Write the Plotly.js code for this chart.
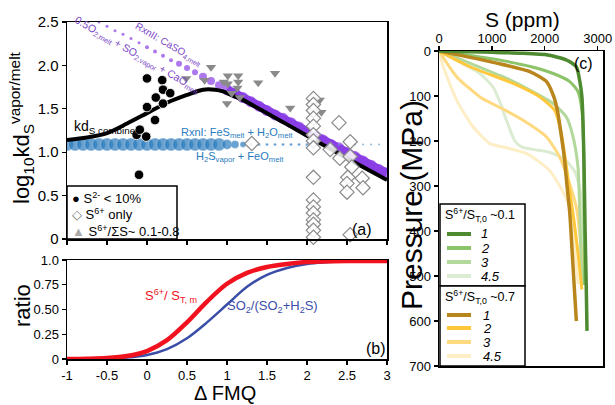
<!DOCTYPE html>
<html>
<head>
<meta charset="utf-8">
<script src="https://cdn.plot.ly/plotly-3.0.1.min.js"></script>
<style>html,body{margin:0;padding:0;background:#fff;}#chart{width:615px;height:405px;}</style>
</head>
<body>
<div id="chart"></div>
<script>
// ---------------- DATA ----------------
// Panel (a): log10 kd_S vapor/melt vs ΔFMQ
const circleFmq = [-0.1, 0.0, 0.0, -0.01, -0.13, -0.09, 0.11, 0.1, 0.19, 0.2, 0.2, 0.29];
const circleKd  = [0.74, 1.85, 1.52, 1.18, 1.2, 1.26, 1.63, 1.37, 1.83, 1.72, 1.56, 1.68];

const triFmq = [0.49, 0.80, 0.72, 0.96, 1.01, 1.14, 1.14, 1.13, 1.01, 1.0, 1.06, 1.16, 1.39, 1.6, 1.79, 2.16, 2.18];
const triKd  = [1.85, 1.98, 1.83, 1.81, 1.88, 1.88, 1.81, 1.74, 1.79, 1.56, 1.68, 1.63, 1.80, 1.91, 1.51, 1.60, 1.46];

const diaFmq = [2.08, 2.08, 2.08, 2.08, 2.08, 2.08, 2.08, 2.08, 2.08, 2.08, 2.08, 2.08, 2.08, 2.08, 2.08, 2.08,
                1.31, 2.29, 2.40, 2.41, 2.54, 2.54, 2.56, 2.51, 2.50, 2.50, 2.69, 2.70, 2.54];
const diaKd  = [1.62, 1.55, 1.48, 1.39, 1.30, 1.20, 1.13, 1.05, 0.71, 0.45, 0.37, 0.30, 0.22, 0.17, 0.10, 0.02,
                1.10, 1.03, 1.34, 0.93, 1.12, 0.95, 0.83, 0.71, 0.64, 0.54, 0.70, 0.59, 0.05];

// Rxn II (CaSO4) dotted curve
const rxn2Fmq = [-0.6,-0.5,-0.4,-0.3,-0.2,-0.1,0.0,0.1,0.2,0.3,0.4,0.5,0.6,0.7,0.8,0.9,1.0,1.1,1.2,1.3,1.4,1.5,1.6,1.7,1.8,1.9,2.0,2.1,2.2,2.3,2.4,2.5,2.6,2.7,2.8,2.9,3.0];
const rxn2Kd  = [2.50,2.45,2.40,2.36,2.31,2.26,2.21,2.16,2.11,2.06,2.02,1.97,1.92,1.87,1.82,1.77,1.72,1.68,1.63,1.58,1.53,1.48,1.43,1.39,1.34,1.29,1.24,1.19,1.14,1.09,1.05,1.00,0.95,0.90,0.85,0.80,0.76];

// Rxn I (FeS) dotted curve
const rxn1Fmq = [-1.0,-0.9,-0.8,-0.7,-0.6,-0.5,-0.4,-0.3,-0.2,-0.1,0.0,0.1,0.2,0.3,0.4,0.5,0.6,0.7,0.8,0.9,1.0,1.1,1.2,1.3,1.4,1.5,1.6,1.7,1.8,1.9,2.0,2.1,2.2,2.3,2.4,2.5,2.6,2.7,2.8,2.9];
const rxn1Kd  = [1.09,1.09,1.09,1.09,1.09,1.09,1.09,1.09,1.09,1.09,1.09,1.09,1.09,1.09,1.09,1.09,1.09,1.09,1.09,1.09,1.09,1.09,1.09,1.09,1.09,1.09,1.09,1.09,1.09,1.09,1.09,1.09,1.09,1.09,1.09,1.09,1.09,1.09,1.09,1.09];

// combined kd curve
const combFmq = [-1.0,-0.75,-0.5,-0.25,0.0,0.25,0.5,0.7,0.85,0.95,1.05,1.16,1.5,2.0,2.5,3.0];
const combKd  = [1.14,1.17,1.22,1.33,1.45,1.57,1.66,1.72,1.72,1.70,1.66,1.62,1.45,1.19,0.93,0.68];

// Panel (b): ratios vs ΔFMQ
const ratioFmq  = [-1,-0.75,-0.5,-0.25,0,0.25,0.5,0.75,1,1.25,1.5,1.75,2,2.5,3];
const s6Ratio   = [0.0,0.003,0.01,0.03,0.08,0.19,0.37,0.58,0.76,0.87,0.93,0.96,0.98,0.99,0.99];
const so2Ratio  = [0.0,0.001,0.005,0.015,0.04,0.10,0.21,0.37,0.55,0.73,0.85,0.92,0.96,0.99,1.0];

// Panel (c): S (ppm) vs Pressure (MPa)
const g1S = [0,1019,1538,2056,2409,2596,2658,2700,2720,2741,2762,2783,2798];
const g1P = [0,3,5,9,20,35,65,100,150,250,400,520,622];
const g2S = [0,604,1226,1745,2160,2472,2627,2700,2731,2741,2752];
const g2P = [0,10,22,35,50,68,90,130,200,350,520];
const g3S = [0,396,811,1226,1717,2160,2409,2534,2627,2658,2679,2700];
const g3P = [0,18,38,58,87,117,147,191,258,348,440,520];
const g45S = [0,396,774,1019,1151,1278,1434,1558,1745,2056,2368,2575,2679,2710,2700];
const g45P = [0,25,50,80,113,155,200,213,218,224,240,270,318,407,520];
const y1S = [0,500,1088,1717,2032,2171,2243,2283,2368,2420,2472,2529,2596];
const y1P = [0,12,27,46,68,102,135,165,236,300,360,470,600];
const y2S = [0,585,1403,1906,2188,2314,2409,2472,2555,2638,2700];
const y2P = [0,35,72,102,132,184,258,311,380,460,530];
const y3S = [0,333,774,1226,1591,2032,2283,2472,2597,2679,2720];
const y3P = [0,57,102,130,154,191,236,296,348,430,520];
const y45S = [0,82,333,647,962,1088,1654,2094,2451,2566,2629];
const y45P = [0,35,109,169,206,210,228,266,340,444,518];

const fmqTicks = [-1,-0.5,0,0.5,1,1.5,2,2.5,3];
const fmqTickText = ['-1','-0.5','0','0.5','1','1.5','2','2.5','3'];
const kdTicks = [0,0.5,1,1.5,2,2.5];
const kdTickText = ['0','0.5','1.0','1.5','2.0','2.5'];
const ratioTicks = [0,0.25,0.5,0.75,1];
const ratioTickText = ['0','0.25','0.50','0.75','1.0'];
const sTicks = [0,1000,2000,3000];
const pTicks = [0,100,200,300,400,500,600,700];
const legendNames = ['1','2','3','4.5'];

// ---------------- STYLE ----------------
const FONT = 'Liberation Sans, Arial, sans-serif';
const W = 615, H = 405;
const X = px => px / W;
const Y = py => 1 - py / H;
const PURPLE = '#8a3ee6', BLUE = '#2a7bbd';
const GREENS = ['#4e8a2f', '#8dc46a', '#b2d89b', '#dcecd2'];
const YELLOWS = ['#b8861c', '#ffc83c', '#ffd980', '#fdeec6'];

const rxn2Size = rxn2Fmq.map(v => v < 0 ? 3 : v < 0.4 ? 4 : v < 0.7 ? 6 : v < 1.0 ? 8 : 11);
const rxn1Size = rxn1Fmq.map(v => v < 0.95 ? 13 : v < 1.05 ? 10 : v < 1.15 ? 8 : v < 1.25 ? 6 : v < 2.35 ? 3 : 2);
const bandIdx = rxn2Fmq.map((v, i) => i).filter(i => rxn2Fmq[i] >= 1.0);

const traces = [
  {x: bandIdx.map(i => rxn2Fmq[i]), y: bandIdx.map(i => rxn2Kd[i]), xaxis: 'x', yaxis: 'y', mode: 'lines', type: 'scatter',
   line: {color: PURPLE, width: 9}},
  {x: rxn2Fmq, y: rxn2Kd, xaxis: 'x', yaxis: 'y', mode: 'markers', type: 'scatter',
   marker: {color: PURPLE, size: rxn2Size, line: {width: 0}}},
  {x: rxn1Fmq, y: rxn1Kd, xaxis: 'x', yaxis: 'y', mode: 'markers', type: 'scatter',
   marker: {color: BLUE, size: rxn1Size, line: {width: 0.6, color: 'rgba(255,255,255,0.6)'}}},
  {x: combFmq, y: combKd, xaxis: 'x', yaxis: 'y', mode: 'lines', type: 'scatter',
   line: {color: '#000', width: 4, shape: 'spline', smoothing: 0.8}},
  {x: triFmq, y: triKd, xaxis: 'x', yaxis: 'y', mode: 'markers', type: 'scatter',
   marker: {symbol: 'triangle-down', color: '#8a8a8a', size: 9, line: {width: 0}}},
  {x: diaFmq, y: diaKd, xaxis: 'x', yaxis: 'y', mode: 'markers', type: 'scatter', cliponaxis: false,
   marker: {symbol: 'diamond', color: 'rgba(255,255,255,0.85)', size: 11, line: {width: 1.2, color: '#8a8a8a'}}},
  {x: circleFmq, y: circleKd, xaxis: 'x', yaxis: 'y', mode: 'markers', type: 'scatter',
   marker: {color: '#000', size: 9.5, line: {width: 0.8, color: '#fff'}}},
  // panel b
  {x: ratioFmq, y: so2Ratio, xaxis: 'x2', yaxis: 'y2', mode: 'lines', type: 'scatter',
   line: {color: '#3a4ea8', width: 2.5, shape: 'spline', smoothing: 0.9}},
  {x: ratioFmq, y: s6Ratio, xaxis: 'x2', yaxis: 'y2', mode: 'lines', type: 'scatter',
   line: {color: '#f0121e', width: 4.5, shape: 'spline', smoothing: 0.9}},
];

const curvesC = [
  [y45S, y45P, YELLOWS[3], 3], [g45S, g45P, GREENS[3], 3],
  [y3S, y3P, YELLOWS[2], 3], [g3S, g3P, GREENS[2], 3],
  [y2S, y2P, YELLOWS[1], 3], [g2S, g2P, GREENS[1], 3],
  [y1S, y1P, YELLOWS[0], 3.5], [g1S, g1P, GREENS[0], 3.5]
];
curvesC.forEach(c => traces.push({x: c[0], y: c[1], xaxis: 'x3', yaxis: 'y3', mode: 'lines', type: 'scatter',
  line: {color: c[2], width: c[3], shape: 'spline', smoothing: 0.6}}));

const axBase = {showline: true, mirror: true, linecolor: '#000', linewidth: 1.5, ticks: 'outside', ticklen: 4,
  tickwidth: 1.2, tickcolor: '#000', showgrid: false, zeroline: false, fixedrange: true,
  tickfont: {family: FONT, size: 13, color: '#000'}};

const shapes = [];
const annotations = [];
function ann(text, x, y, opts) {
  annotations.push(Object.assign({text: text, x: X(x), y: Y(y), xref: 'paper', yref: 'paper',
    xanchor: 'center', yanchor: 'middle',
    showarrow: false, font: {family: FONT, size: 13, color: '#000'}}, opts || {}));
}
// legend (a)
shapes.push({type: 'rect', xref: 'paper', yref: 'paper', x0: X(67), x1: X(177), y0: Y(239), y1: Y(186),
  fillcolor: '#fff', line: {color: '#000', width: 1.5}, layer: 'above'});
ann('<span style="color:#000">●</span> S<sup>2-</sup> &lt; 10%', 70, 198, {xanchor: 'left'});
ann('<span style="color:#777">◇</span> S<sup>6+</sup> only', 70, 214, {xanchor: 'left'});
ann('<span style="color:#aaa">▲</span> S<sup>6+</sup>/ΣS~ 0.1-0.8', 70, 231, {xanchor: 'left'});
// panel (a) labels
ann('kd<sub>S combined</sub>', 72, 127, {xanchor: 'left', font: {family: FONT, size: 14, color: '#000'}});
ann('RxnI: FeS<sub>melt</sub> + H<sub>2</sub>O<sub>melt</sub>', 237, 133, {font: {family: FONT, size: 11, color: BLUE}});
ann('H<sub>2</sub>S<sub>vapor</sub> + FeO<sub>melt</sub>', 240, 157, {font: {family: FONT, size: 11, color: BLUE}});
ann('RxnII: CaSO<sub>4,melt</sub>', 168, 44, {textangle: 30, font: {family: FONT, size: 10, color: '#7d48c8'}});
ann('0.5O<sub>2,melt</sub> + SO<sub>2,vapor</sub> + CaO<sub>melt</sub>', 137, 55, {textangle: 30, font: {family: FONT, size: 10.5, color: '#7d48c8'}});
ann('(a)', 362, 229, {font: {family: FONT, size: 16, color: '#000'}});
// panel (b) labels
ann('S<sup>6+</sup>/ S<sub>T, m</sub>', 171, 296, {font: {family: FONT, size: 13, color: '#f0121e'}});
ann('SO<sub>2</sub>/(SO<sub>2</sub>+H<sub>2</sub>S)', 272, 306, {font: {family: FONT, size: 13, color: '#3a4ea8'}});
ann('(b)', 376, 348, {font: {family: FONT, size: 16, color: '#000'}});
// panel (c)
ann('(c)', 583, 64, {font: {family: FONT, size: 16, color: '#000'}});
// axis titles
ann('log<sub>10</sub>kd<sub>S</sub><sup>vapor/melt</sup>', 22, 128, {textangle: -90, font: {family: FONT, size: 22, color: '#000'}});
ann('ratio', 22, 306, {textangle: -90, font: {family: FONT, size: 22, color: '#000'}});
ann('Δ FMQ', 225, 393, {font: {family: FONT, size: 20, color: '#000'}});
ann('S (ppm)', 522, 19, {font: {family: FONT, size: 21, color: '#000'}});
ann('Pressure (MPa)', 411, 205, {textangle: -90, font: {family: FONT, size: 30, color: '#000'}});
// legend (c)
shapes.push({type: 'rect', xref: 'paper', yref: 'paper', x0: X(440), x1: X(525), y0: Y(286), y1: Y(204),
  fillcolor: '#fff', line: {color: '#000', width: 1.5}, layer: 'above'});
shapes.push({type: 'rect', xref: 'paper', yref: 'paper', x0: X(440), x1: X(525), y0: Y(366), y1: Y(286),
  fillcolor: '#fff', line: {color: '#000', width: 1.5}, layer: 'above'});
ann('S<sup>6+</sup>/S<sub>T,0</sub> ~0.1', 443, 215, {xanchor: 'left', font: {family: FONT, size: 12.5, color: '#000'}});
ann('S<sup>6+</sup>/S<sub>T,0</sub> ~0.7', 443, 297, {xanchor: 'left', font: {family: FONT, size: 12.5, color: '#000'}});
const legY1 = [234, 248, 262, 276], legY2 = [315, 328, 342, 356];
legendNames.forEach((n, i) => {
  shapes.push({type: 'line', xref: 'paper', yref: 'paper', x0: X(447), x1: X(471), y0: Y(legY1[i]), y1: Y(legY1[i]),
    line: {color: GREENS[i], width: 4}, layer: 'above'});
  shapes.push({type: 'line', xref: 'paper', yref: 'paper', x0: X(447), x1: X(471), y0: Y(legY2[i]), y1: Y(legY2[i]),
    line: {color: YELLOWS[i], width: 4}, layer: 'above'});
  ann('<i>' + n + '</i>', 479, legY1[i], {xanchor: 'left'});
  ann('<i>' + n + '</i>', 481, legY2[i], {xanchor: 'left'});
});

const layout = {
  width: W, height: H, margin: {l: 0, r: 0, t: 0, b: 0}, showlegend: false,
  paper_bgcolor: '#fff', plot_bgcolor: 'rgba(0,0,0,0)', font: {family: FONT},
  xaxis: Object.assign({}, axBase, {domain: [X(67), X(387)], range: [-1, 3], anchor: 'y',
    tickvals: fmqTicks, showticklabels: false}),
  yaxis: Object.assign({}, axBase, {domain: [Y(239), Y(22)], range: [0, 2.5], anchor: 'x',
    tickvals: kdTicks, ticktext: kdTickText, tickfont: {family: FONT, size: 15, color: '#000'}}),
  xaxis2: Object.assign({}, axBase, {domain: [X(67), X(387)], range: [-1, 3], anchor: 'y2',
    tickvals: fmqTicks, ticktext: fmqTickText}),
  yaxis2: Object.assign({}, axBase, {domain: [Y(359), Y(260)], range: [0, 1], anchor: 'x2',
    tickvals: ratioTicks, ticktext: ratioTickText}),
  xaxis3: Object.assign({}, axBase, {domain: [X(439), X(603)], range: [0, 3100], anchor: 'y3', side: 'top',
    tickvals: sTicks, ticklabeloverflow: 'allow', ticklabelstandoff: -3}),
  yaxis3: Object.assign({}, axBase, {domain: [Y(366), Y(51)], range: [700, 0], anchor: 'x3',
    tickvals: pTicks}),
  shapes: shapes, annotations: annotations
};

Plotly.newPlot('chart', traces, layout, {displayModeBar: false, staticPlot: true});
</script>
</body>
</html>
